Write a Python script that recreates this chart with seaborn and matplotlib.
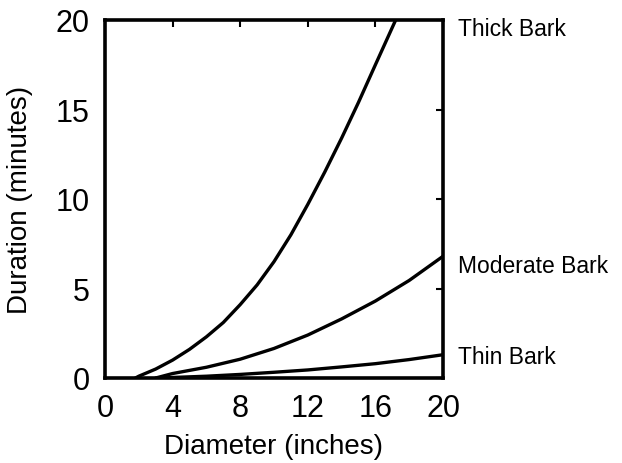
import numpy as np
import pandas as pd
import matplotlib
matplotlib.use("Agg")
import matplotlib.pyplot as plt
import seaborn as sns

# values
thick_x = [1.8, 2, 3, 4, 5, 6, 7, 8, 9, 10, 11, 12, 13, 14, 15, 16, 17.2]
thick_y = [0, 0.1, 0.5, 1.0, 1.6, 2.3, 3.1, 4.1, 5.2, 6.5, 8.0, 9.7, 11.5, 13.4, 15.4, 17.5, 20]

moderate_x = [3, 4, 6, 8, 10, 12, 14, 16, 18, 20]
moderate_y = [0, 0.25, 0.6, 1.05, 1.65, 2.4, 3.3, 4.3, 5.45, 6.8]

thin_x = [3.5, 4, 6, 8, 10, 12, 14, 16, 18, 20]
thin_y = [0, 0.03, 0.1, 0.2, 0.32, 0.45, 0.62, 0.8, 1.03, 1.3]

labels = ["Thick Bark", "Moderate Bark", "Thin Bark"]
label_y = [19.5, 6.3, 1.2]

df = pd.concat([
    pd.DataFrame({"diameter": thick_x, "duration": thick_y, "bark": labels[0]}),
    pd.DataFrame({"diameter": moderate_x, "duration": moderate_y, "bark": labels[1]}),
    pd.DataFrame({"diameter": thin_x, "duration": thin_y, "bark": labels[2]}),
])

sns.set_style("white")
plt.rcParams["font.family"] = ["Liberation Sans", "DejaVu Sans"]
plt.rcParams["text.color"] = "black"
plt.rcParams["axes.labelcolor"] = "black"

fig = plt.figure(figsize=(6.22, 4.64), dpi=100)
ax = fig.add_axes([105 / 622, 1 - 379 / 464, 338 / 622, 358 / 464])

sns.lineplot(data=df, x="diameter", y="duration", hue="bark", units="bark",
             estimator=None, sort=False, palette=["black"] * 3, linewidth=2.4,
             legend=False, ax=ax)

ax.set_xlim(0, 20)
ax.set_ylim(0, 20)
ax.set_xticks([0, 4, 8, 12, 16, 20])
ax.set_yticks([0, 5, 10, 15, 20])
ax.tick_params(direction="in", length=5, width=1.5, top=True, right=True,
               labelsize=22, pad=11, colors="black")
for s in ax.spines.values():
    s.set_linewidth(2.6)
    s.set_color("black")

ax.set_xlabel("Diameter (inches)", fontsize=20, labelpad=7)
ax.set_ylabel("Duration (minutes)", fontsize=20, labelpad=16)

for name, yv in zip(labels, label_y):
    ax.text(20.9, yv, name, fontsize=16.5, va="center", ha="left", clip_on=False)

fig.savefig("out.png", dpi=100)
